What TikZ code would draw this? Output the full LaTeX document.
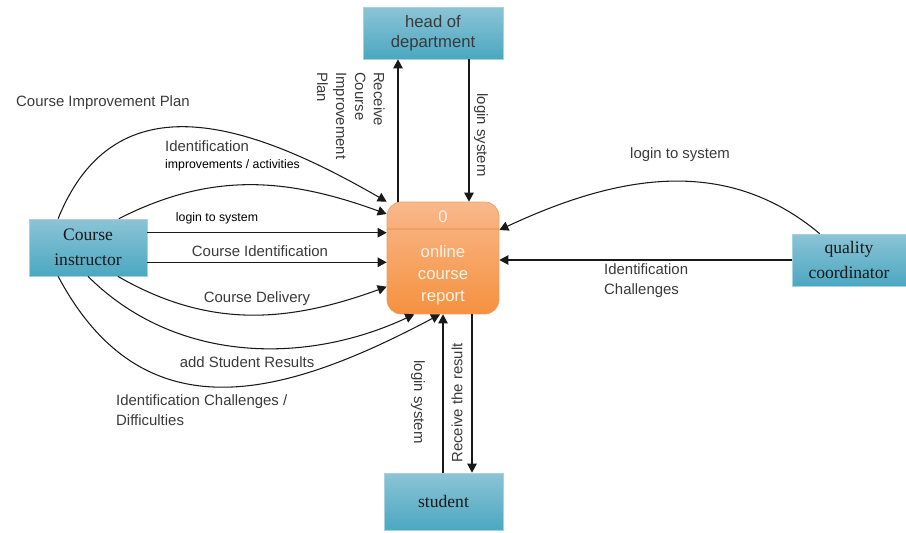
\documentclass[tikz,border=0pt]{standalone}
\usepackage{fontspec}
\setmainfont{Liberation Serif}
\setsansfont{Liberation Sans}
\usetikzlibrary{arrows.meta, positioning, calc}

\definecolor{boxtop}{HTML}{8CC4D6}
\definecolor{boxbot}{HTML}{4BA7C1}
\definecolor{boxline}{HTML}{A3D3E2}
\definecolor{proctop}{HTML}{F9B88C}
\definecolor{procbot}{HTML}{F5913F}
\definecolor{procline}{HTML}{F2A062}
\definecolor{labeltext}{HTML}{3A3A3A}

\tikzset{
  entity/.style={rectangle, draw=boxline, top color=boxtop, bottom color=boxbot,
    align=center, text=black!90, font=\fontsize{10}{14}\selectfont},
  process/.style={rectangle, rounded corners=8pt, draw=procline, top color=proctop,
    bottom color=procbot, minimum width=2.24cm, minimum height=2.24cm},
  proctext/.style={text=white!90!orange, align=center, font=\sffamily\fontsize{9.5}{12.5}\selectfont},
  lbl/.style={text=labeltext, align=left, font=\sffamily\fontsize{8.5}{11.5}\selectfont},
  small/.style={text=black, font=\sffamily\fontsize{7}{8.5}\selectfont},
  flow/.style={draw=black!90, line width=0.6pt, -{Triangle[length=1.8mm,width=1.9mm]}}
}

\begin{document}
\begin{tikzpicture}[x=0.02cm, y=-0.02cm]
\useasboundingbox (0,0) rectangle (906,533);

% external entities
\node[entity, minimum width=2.36cm, minimum height=1.14cm] (ci) at (88,247.5) {Course\\instructor};
\node[entity, minimum width=2.8cm, minimum height=1.04cm, font=\sffamily\fontsize{9.5}{11.5}\selectfont, text=labeltext] (hod) at (433,33) {head of\\department};
\node[entity, minimum width=2.28cm, minimum height=1.04cm] (qc) at (849,260) {quality\\coordinator};
\node[entity, minimum width=2.38cm, minimum height=1.14cm] (st) at (443.5,501.5) {student};

% process
\node[process] (proc) at (443,258) {};
\draw[procline, line width=0.6pt] (proc.west |- 0,229) -- (proc.east |- 0,229);
\node[proctext] (pid) at (443,217) {0};
\node[proctext] (pname) at (443,275) {online\\course\\report};

% head of department
\draw[flow] (proc.north -| 398,0) -- (hod.south -| 398,0);
\draw[flow] (hod.south -| 469,0) -- (proc.north -| 469,0);
\node[lbl, rotate=-90, anchor=north west, font=\sffamily\fontsize{8.5}{10.8}\selectfont] (lrecv) at (391,66) {Receive\\Course\\Improvement\\Plan};
\node[lbl, rotate=-90] (lhlog) at (481,135) {login system};

% course instructor
\draw[flow] (ci.136.5) to[out=68, in=150, looseness=1.2] (proc.north west);
\draw[flow] (ci.43.5) to[out=27, in=160] (proc.142);
\draw[flow] (ci.14) -- (ci.14 -| proc.west);
\draw[flow] (ci.-14) -- (ci.-14 -| proc.west);
\draw[flow] (ci.-44.5) to[out=-30, in=200] (proc.207);
\draw[flow] (ci.-90) to[out=-45, in=205, looseness=0.95] (proc.243);
\draw[flow] (ci.-136.5) to[out=-62, in=208, looseness=1.2] (proc.267);

\node[lbl, anchor=west] (lcip) at (10,103) {Course Improvement Plan};
\node[lbl, anchor=west] (lident) at (159,156) {Identification\\[-2pt]{\fontsize{7}{8.5}\selectfont\color{black} improvements / activities}};
\node[small] (llog) at (217,218) {login to system};
\node[lbl] (lcid) at (260,251) {Course Identification};
\node[lbl] (ldel) at (257,299) {Course Delivery};
\node[lbl] (ladd) at (247,362) {add Student Results};
\node[lbl, anchor=west] (lchal) at (110,410) {Identification Challenges /\\Difficulties};

% quality coordinator
\draw[flow] (qc.north west) ++(28,0) coordinate (qcs) to[out=140, in=25] (proc.east |- 0,230);
\draw[flow] (qc.west) -- (qc.west -| proc.east);
\node[lbl] (lqlog) at (680,155) {login to system};
\node[lbl, anchor=west] (lqch) at (598,281) {Identification\\Challenges};

% student
\draw[flow] (st.north -| 443,0) -- (proc.south -| 443,0);
\draw[flow] (proc.south -| 472,0) -- (st.north -| 472,0);
\node[lbl, rotate=-90] (lslog) at (418,402) {login system};
\node[lbl, rotate=90] (lsres) at (457,403) {Receive the result};
\end{tikzpicture}
\end{document}
